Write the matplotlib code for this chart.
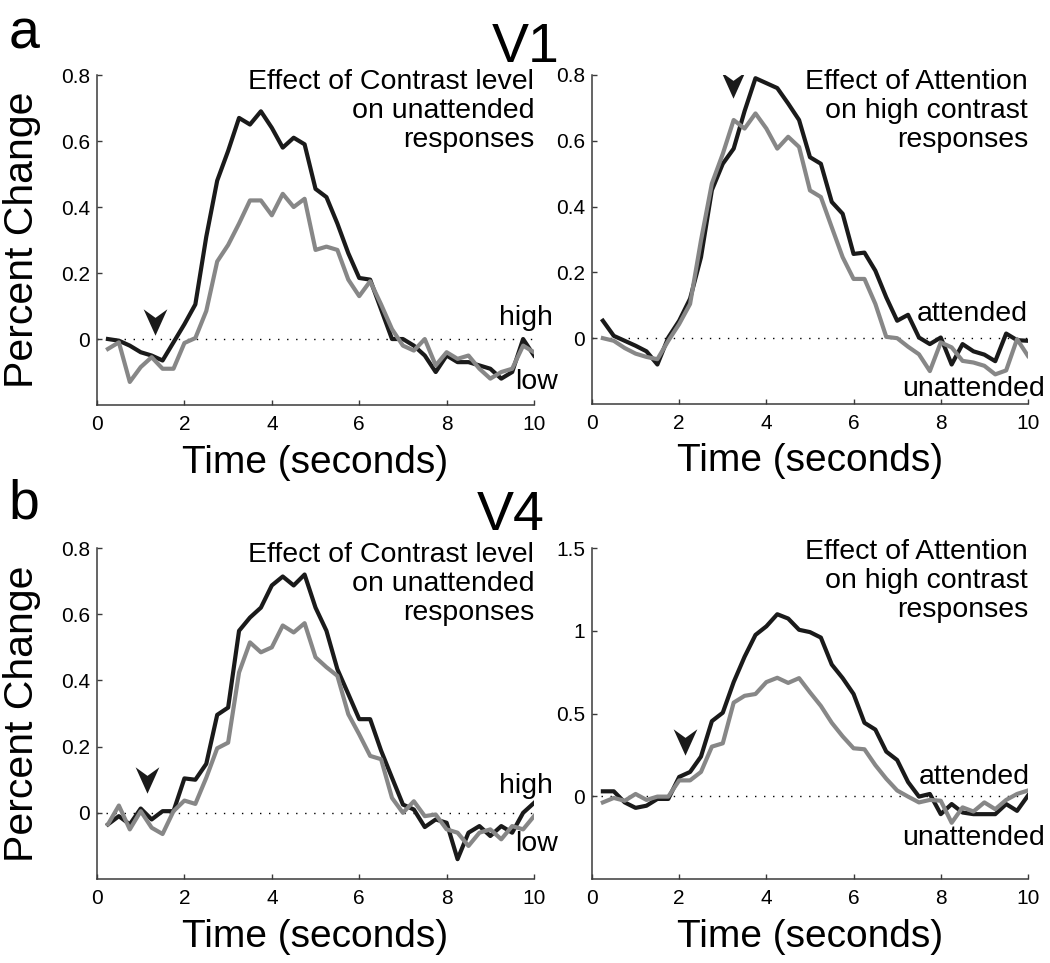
import numpy as np
import matplotlib
matplotlib.use("Agg")
import matplotlib.pyplot as plt
from matplotlib.path import Path

plt.rcParams['font.family'] = ['Liberation Sans', 'DejaVu Sans']

# time axis: samples every 0.25 s
t = np.arange(1, 41) * 0.25

# V1, effect of contrast (unattended)
v1_high = [0.0, -0.005, -0.02, -0.04, -0.05, -0.065, -0.01, 0.045, 0.105, 0.31,
           0.48, 0.57, 0.67, 0.65, 0.69, 0.64, 0.58, 0.61, 0.59, 0.455,
           0.43, 0.35, 0.26, 0.185, 0.18, 0.09, 0.0, 0.0, -0.02, -0.05,
           -0.10, -0.05, -0.07, -0.07, -0.08, -0.09, -0.12, -0.10, 0.0, -0.05]
v1_low = [-0.03, -0.01, -0.13, -0.085, -0.055, -0.09, -0.09, -0.012, 0.003, 0.085,
          0.235, 0.285, 0.35, 0.42, 0.42, 0.375, 0.44, 0.40, 0.425, 0.27,
          0.28, 0.27, 0.18, 0.13, 0.175, 0.105, 0.03, -0.02, -0.035, 0.0,
          -0.08, -0.04, -0.06, -0.05, -0.09, -0.12, -0.10, -0.09, -0.02, -0.04]

# V1, effect of attention (high contrast)
v1_att = [0.053, 0.007, -0.008, -0.023, -0.04, -0.08, 0.002, 0.053, 0.12, 0.246,
          0.45, 0.53, 0.576, 0.69, 0.79, 0.775, 0.76, 0.713, 0.663, 0.55,
          0.53, 0.414, 0.378, 0.256, 0.26, 0.205, 0.124, 0.053, 0.071, 0.002,
          -0.018, 0.002, -0.08, -0.018, -0.04, -0.05, -0.07, 0.014, -0.006, -0.008]
v1_unatt = [0.0, -0.008, -0.03, -0.047, -0.057, -0.064, -0.008, 0.043, 0.104, 0.297,
            0.47, 0.56, 0.663, 0.637, 0.683, 0.637, 0.576, 0.612, 0.581, 0.449,
            0.429, 0.337, 0.246, 0.18, 0.18, 0.104, 0.004, 0.0, -0.026, -0.049,
            -0.1, -0.013, -0.028, -0.069, -0.074, -0.084, -0.11, -0.098, -0.003, -0.054]

# V4, effect of contrast (unattended)
v4_high = [-0.035, -0.01, -0.035, 0.013, -0.02, 0.005, 0.005, 0.104, 0.10, 0.148,
           0.296, 0.318, 0.55, 0.59, 0.62, 0.687, 0.714, 0.687, 0.72, 0.62,
           0.55, 0.434, 0.359, 0.283, 0.283, 0.188, 0.106, 0.025, 0.01, -0.043,
           -0.02, -0.03, -0.14, -0.06, -0.04, -0.07, -0.04, -0.06, 0.0, 0.03]
v4_low = [-0.035, 0.022, -0.05, 0.005, -0.045, -0.064, 0.005, 0.037, 0.027, 0.106,
          0.195, 0.212, 0.424, 0.515, 0.485, 0.5, 0.566, 0.545, 0.573, 0.47,
          0.44, 0.414, 0.298, 0.237, 0.172, 0.162, 0.045, 0.0, 0.035, -0.01,
          -0.005, -0.05, -0.06, -0.1, -0.06, -0.05, -0.08, -0.04, -0.05, -0.01]

# V4, effect of attention (high contrast)
v4_att = [0.03, 0.03, -0.037, -0.07, -0.057, -0.016, -0.016, 0.117, 0.147, 0.24,
          0.454, 0.505, 0.69, 0.843, 0.975, 1.027, 1.10, 1.074, 1.006, 0.992,
          0.959, 0.796, 0.714, 0.618, 0.444, 0.403, 0.27, 0.219, 0.086, -0.002,
          0.014, -0.108, -0.047, -0.098, -0.108, -0.108, -0.108, -0.047, -0.088, 0.004]
v4_unatt = [-0.037, -0.01, -0.027, 0.014, -0.022, -0.002, -0.002, 0.096, 0.096, 0.147,
            0.30, 0.32, 0.566, 0.607, 0.618, 0.69, 0.716, 0.685, 0.714, 0.628,
            0.546, 0.444, 0.362, 0.29, 0.284, 0.188, 0.106, 0.035, -0.002, -0.037,
            -0.022, -0.027, -0.16, -0.067, -0.092, -0.037, -0.078, -0.022, 0.014, 0.035]

# arrowhead marks (time, value at arrow centre)
arrow_t = [1.33, 3.23, 1.14, 2.13]
arrow_y = [0.053, 0.77, 0.10, 0.325]

DARK = '#1a1a1a'
GRAY = '#878787'
AXC = '#3a3a3a'

arrow_marker = Path([(0, -1), (-0.9, 1), (0, 0.35), (0.9, 1), (0, -1)],
                    [Path.MOVETO, Path.LINETO, Path.LINETO, Path.LINETO, Path.CLOSEPOLY])

fig = plt.figure(figsize=(10.5, 9.63), dpi=100)

positions = [
    [0.0924, 0.5794, 0.4162, 0.3427],
    [0.5638, 0.5805, 0.4152, 0.3417],
    [0.0924, 0.0872, 0.4162, 0.3437],
    [0.5638, 0.0872, 0.4152, 0.3437],
]
panels = [
    (v1_high, v1_low, "Effect of Contrast level\non unattended\nresponses", ("high", "low")),
    (v1_att, v1_unatt, "Effect of Attention\non high contrast\nresponses", ("attended", "unattended")),
    (v4_high, v4_low, "Effect of Contrast level\non unattended\nresponses", ("high", "low")),
    (v4_att, v4_unatt, "Effect of Attention\non high contrast\nresponses", ("attended", "unattended")),
]
ylims = [(-0.2, 0.8), (-0.2, 0.8), (-0.2, 0.8), (-0.5, 1.5)]
# label positions in data coords: (x, y) for upper and lower curve labels
label_pos = [
    ((10.43, 0.065), (10.55, -0.13)),
    ((10.0, 0.073), (10.39, -0.155)),
    ((10.43, 0.08), (10.55, -0.095)),
    ((10.05, 0.117), (10.39, -0.25)),
]
note_pos = [(10.0, 0.818), (10.0, 0.818), (10.0, 0.818), (10.0, 1.555)]

for i, (pos, (top, bot, note, labs)) in enumerate(zip(positions, panels)):
    ax = fig.add_axes(pos)
    ax.axhline(0, color='black', lw=1.0, ls=(0, (1, 5.5)), zorder=1)
    ax.plot(t, top, color=DARK, lw=3.0, zorder=3)
    ax.plot(t, bot, color=GRAY, lw=3.0, zorder=4)
    ax.plot(arrow_t[i], arrow_y[i], marker=arrow_marker, markersize=19,
            color=DARK, markeredgewidth=0, linestyle='none', zorder=5)

    ax.set_xlim(0, 10)
    ax.set_ylim(*ylims[i])
    ax.set_xticks([0, 2, 4, 6, 8, 10])
    if i == 3:
        ax.set_yticks([0, 0.5, 1, 1.5])
        ax.set_yticklabels(['0', '0.5', '1', '1.5'])
    else:
        ax.set_yticks([0, 0.2, 0.4, 0.6, 0.8])
        ax.set_yticklabels(['0', '0.2', '0.4', '0.6', '0.8'])

    for side in ['top', 'right']:
        ax.spines[side].set_visible(False)
    for side in ['left', 'bottom']:
        ax.spines[side].set_color(AXC)
        ax.spines[side].set_linewidth(1.1)
    ax.tick_params(direction='in', length=3.5, width=1.0, color=AXC,
                   labelsize=15, labelcolor='black')
    ax.tick_params(axis='x', pad=7)
    ax.tick_params(axis='y', pad=5)

    ax.set_xlabel("Time (seconds)", fontsize=28)
    ax.xaxis.set_label_coords(0.5, -0.12)
    if i in (0, 2):
        ax.set_ylabel("Percent Change", fontsize=29.5)
        ax.yaxis.set_label_coords(-0.128, 0.5)

    ax.text(note_pos[i][0], note_pos[i][1], note, ha='right', va='top',
            fontsize=20.5, linespacing=1.15)
    (x1, y1), (x2, y2) = label_pos[i]
    ax.text(x1, y1, labs[0], ha='right', va='center', fontsize=20.5, clip_on=False)
    ax.text(x2, y2, labs[1], ha='right', va='center', fontsize=20.5, clip_on=False)

fig.text(0.008, 0.964, "a", fontsize=40, ha='left', va='center')
fig.text(0.501, 0.950, "V1", fontsize=40, ha='center', va='center')
fig.text(0.008, 0.476, "b", fontsize=40, ha='left', va='center')
fig.text(0.486, 0.464, "V4", fontsize=40, ha='center', va='center')

fig.savefig("out.png", dpi=100, facecolor='white')
